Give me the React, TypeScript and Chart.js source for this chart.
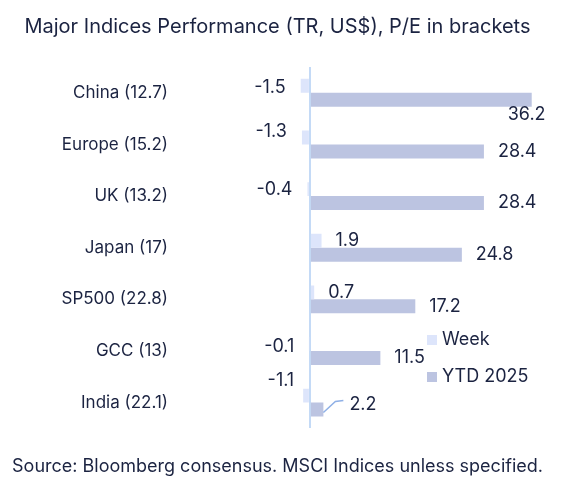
import React, { useEffect, useRef } from "react";
import { Chart, registerables } from "chart.js";

Chart.register(...registerables);

const categories = ["China (12.7)", "Europe (15.2)", "UK (13.2)", "Japan (17)", "SP500 (22.8)", "GCC (13)", "India (22.1)"];
const seriesNames = ["Week", "YTD 2025"];
const weekValues = [-1.5, -1.3, -0.4, 1.9, 0.7, -0.1, -1.1];
const ytdValues = [36.2, 28.4, 28.4, 24.8, 17.2, 11.5, 2.2];

const TITLE = "Major Indices Performance (TR, US$), P/E in brackets";
const FOOTER = "Source: Bloomberg consensus. MSCI Indices unless specified.";

const FONT = "Inter";
const TEXT = "#1b2341";
const WEEK_COLOR = "#dde5fb";
const YTD_COLOR = "#bcc4e1";
const AXIS_COLOR = "#c4daf6";

// manual label nudges (datasetIndex:index)
const labelNudges: Record<string, { dx: number; dy: number; leader?: boolean }> = {
  "0:0": { dx: 0, dy: 2 },
  "0:1": { dx: 0, dy: -6 },
  "0:5": { dx: 0, dy: 3 },
  "0:6": { dx: 6, dy: -15 },
  "1:0": { dx: -38, dy: 15 },
  "1:6": { dx: 12, dy: -5, leader: true },
};

const dataLabelPlugin = {
  id: "dataLabels",
  afterDatasetsDraw(chart: any) {
    const ctx = chart.ctx;
    ctx.save();
    ctx.font = `18px ${FONT}`;
    ctx.fillStyle = TEXT;
    ctx.textBaseline = "middle";
    chart.data.datasets.forEach((ds: any, di: number) => {
      const meta = chart.getDatasetMeta(di);
      meta.data.forEach((bar: any, i: number) => {
        const v = ds.data[i] as number;
        const txt = v.toFixed(1);
        const n = labelNudges[`${di}:${i}`] || { dx: 0, dy: 0 };
        const endX = bar.x;
        const cy = bar.y;
        let x: number;
        if (v < 0) {
          ctx.textAlign = "right";
          x = endX - 15 + n.dx;
        } else {
          ctx.textAlign = "left";
          x = endX + 14 + n.dx;
        }
        if (n.leader) {
          ctx.save();
          ctx.strokeStyle = "#8fb0e6";
          ctx.lineWidth = 1.5;
          ctx.beginPath();
          ctx.moveTo(endX, cy + 3);
          ctx.lineTo(endX + 12, cy - 8);
          ctx.lineTo(endX + 20, cy - 9);
          ctx.stroke();
          ctx.restore();
        }
        ctx.fillText(txt, x, cy + n.dy);
      });
    });
    ctx.restore();
  },
};

const legendPlugin = {
  id: "customLegend",
  afterDraw(chart: any) {
    const ctx = chart.ctx;
    const area = chart.chartArea;
    const x0 = area.left + 209;
    const ys = [area.top + 273, area.top + 310];
    ctx.save();
    ctx.font = `18px ${FONT}`;
    ctx.textBaseline = "middle";
    ctx.textAlign = "left";
    chart.data.datasets.forEach((ds: any, i: number) => {
      ctx.fillStyle = ds.backgroundColor;
      ctx.fillRect(x0, ys[i] - 5, 10, 10);
      ctx.fillStyle = TEXT;
      ctx.fillText(ds.label, x0 + 15, ys[i]);
    });
    ctx.restore();
  },
};

export default function App() {
  const canvasRef = useRef<HTMLCanvasElement>(null);

  useEffect(() => {
    if (!canvasRef.current) return;
    const chart = new Chart(canvasRef.current, {
      type: "bar",
      data: {
        labels: categories,
        datasets: [
          { label: seriesNames[0], data: weekValues, backgroundColor: WEEK_COLOR, categoryPercentage: 0.54, barPercentage: 1.0 },
          { label: seriesNames[1], data: ytdValues, backgroundColor: YTD_COLOR, categoryPercentage: 0.54, barPercentage: 1.0 },
        ],
      },
      options: {
        animation: false,
        responsive: true,
        maintainAspectRatio: false,
        indexAxis: "y",
        layout: { padding: { left: 0, right: 15, top: 0, bottom: 0 } },
        plugins: {
          legend: { display: false },
          tooltip: { enabled: false },
          title: {
            display: true,
            text: TITLE,
            color: TEXT,
            font: { family: FONT, size: 20, weight: "normal" },
            padding: { top: 15, bottom: 28 },
          },
          subtitle: {
            display: true,
            position: "bottom",
            text: FOOTER,
            color: TEXT,
            font: { family: FONT, size: 18, weight: "normal" },
            padding: { top: 27, bottom: 13 },
          },
        },
        scales: {
          x: {
            min: -15,
            max: 40,
            z: 1,
            ticks: { display: false, stepSize: 5 },
            border: { display: false },
            grid: {
              drawTicks: false,
              lineWidth: 2,
              color: (c: any) => (c.tick && c.tick.value === 0 ? AXIS_COLOR : "rgba(0,0,0,0)"),
            },
            afterFit: (s: any) => {
              s.height = 0;
            },
          },
          y: {
            border: { display: false },
            grid: { display: false, drawTicks: false },
            ticks: {
              color: TEXT,
              padding: 50,
              font: { family: FONT, size: 17 },
            },
            afterFit: (s: any) => {
              s.width = 218;
            },
          },
        },
      },
      plugins: [dataLabelPlugin, legendPlugin],
    });
    return () => chart.destroy();
  }, []);

  return (
    <div style={{ position: "fixed", left: 0, top: 0, width: 570, height: 490, background: "#fff" }}>
      <canvas ref={canvasRef} />
    </div>
  );
}
